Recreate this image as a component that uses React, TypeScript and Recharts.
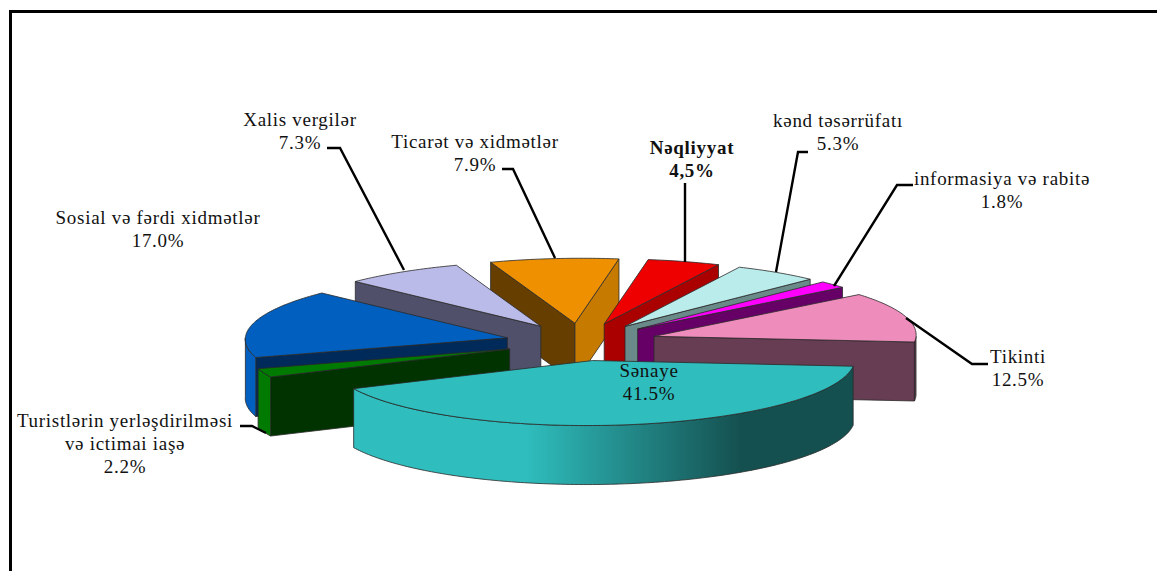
import { Pie, PieChart } from "recharts";

const names = [
  "Nəqliyyat",
  "kənd təsərrüfatı",
  "informasiya və rabitə",
  "Tikinti",
  "Sənaye",
  "Turistlərin yerləşdirilməsi",
  "Sosial və fərdi xidmətlər",
  "Xalis vergilər",
  "Ticarət və xidmətlər",
];
const values = [4.5, 5.3, 1.8, 12.5, 41.5, 2.2, 17.0, 7.3, 7.9];
const valueLabels = ["4,5%", "5.3%", "1.8%", "12.5%", "41.5%", "2.2%", "17.0%", "7.3%", "7.9%"];
const topColors = ["#ee0000", "#bbecec", "#ff00ff", "#ee8cbb", "#2fbdbd", "#007a00", "#005fbf", "#bbbbea", "#ee9000"];
const startWalls = ["#aa0000", "#6a8a8a", "#660066", "#663d52", "#155050", "#003300", "#002a5a", "#50506a", "#663f00"];
const endWalls = ["#aa0000", "#6a8a8a", "#660066", "#663d52", "#155050", "#003300", "#002a5a", "#50506a", "#c77a00"];
const arcWalls = ["#aa0000", "#6a8a8a", "#660066", "#663d52", "url(#senayeSide)", "#007a00", "#005fbf", "#50506a", "#c77a00"];

// back slices first, Sənaye goes on top of everything
const drawOrder = [8, 7, 0, 1, 2, 3, 6, 5, 4];

const sliceData = names.map((name, i) => ({ name, value: values[i] }));

const squash = 65 / 262;
const explode = 0.29;
const depth = 59;
const lean = 0.1; // front of the pie leans left a little, like the perspective in the original

function Slice3D(props: any) {
  const { cx, cy, outerRadius: r, startAngle: a0, endAngle: a1 } = props;
  const i = names.indexOf(props.name ?? props.payload?.name);
  const mid = (a0 + a1) / 2;
  const rad = (d: number) => (d * Math.PI) / 180;
  const bx = cx + r * explode * Math.cos(rad(mid));
  const by = cy - r * explode * squash * Math.sin(rad(mid));
  const project = (x: number, y: number, dy = 0) => `${x - lean * (y - cy)} ${y + dy}`;
  const apex = (dy = 0) => project(bx, by, dy);
  const pt = (a: number, dy = 0) =>
    project(bx + r * Math.cos(rad(a)), by - r * squash * Math.sin(rad(a)), dy);
  const arc = (from: number, to: number, dy = 0) => {
    const steps = Math.max(2, Math.ceil(Math.abs(from - to)));
    return Array.from({ length: steps + 1 }, (_, k) => pt(from + ((to - from) * k) / steps, dy)).join(" L");
  };
  const line = { stroke: "#2a2a2a", strokeWidth: 0.8, strokeLinejoin: "round" as const };

  const wall = (a: number, fill: string) => (
    <path d={`M${apex()} L${pt(a)} L${pt(a, depth)} L${apex(depth)} Z`} fill={fill} {...line} />
  );
  const arcFrom = Math.min(a0, 0);
  const arcTo = Math.max(a1, -180);

  return (
    <g>
      {Math.cos(rad(a0)) < 0 && wall(a0, startWalls[i])}
      {Math.cos(rad(a1)) > 0 && wall(a1, endWalls[i])}
      {arcFrom > arcTo && (
        <path d={`M${arc(arcFrom, arcTo)} L${arc(arcTo, arcFrom, depth)} Z`} fill={arcWalls[i]} {...line} />
      )}
      <path d={`M${apex()} L${arc(a0, a1)} Z`} fill={topColors[i]} {...line} />
    </g>
  );
}

const labelFont = { fontFamily: "'Liberation Serif', serif", fontSize: 19, letterSpacing: 0.7, fill: "#111" };

// text blocks: x center, first baseline, lines
const labelSpots = [
  { x: 692, y: 154, lines: [names[0], valueLabels[0]], bold: true },
  { x: 838, y: 127, lines: [names[1], valueLabels[1]] },
  { x: 1002, y: 185, lines: [names[2], valueLabels[2]] },
  { x: 1018, y: 363, lines: [names[3], valueLabels[3]] },
  { x: 649, y: 377, lines: [names[4], valueLabels[4]] },
  { x: 125, y: 427, lines: [names[5], "və ictimai iaşə", valueLabels[5]] },
  { x: 158, y: 224, lines: [names[6], valueLabels[6]] },
  { x: 300, y: 126, lines: [names[7], valueLabels[7]] },
  { x: 475, y: 148, lines: [names[8], valueLabels[8]] },
];
const leaders = [
  "685,183 685,262",
  "808,152 798,152 776,272",
  "913,185 897,185 834,286",
  "906,318 972,364 988,364",
  "240,426 252,426 266,433",
  "327,148 340,148 404,270",
  "502,169 513,169 555,258",
];

export default function App() {
  return (
    <div style={{ position: "absolute", left: 0, top: 0, width: 1157, height: 571, overflow: "hidden", background: "#fff" }}>
      <div style={{ position: "absolute", left: 9, top: 10, right: 0, bottom: 0, borderLeft: "3px solid #000", borderTop: "3px solid #000" }} />
      <PieChart width={1157} height={571} margin={{ top: 0, right: 0, bottom: 0, left: 0 }} style={{ position: "absolute", left: 0, top: 0 }}>
        <defs>
          <linearGradient id="senayeSide" gradientUnits="userSpaceOnUse" x1={352} y1={0} x2={850} y2={0}>
            <stop offset="0.35" stopColor="#2fbdbd" />
            <stop offset="0.78" stopColor="#155050" />
          </linearGradient>
        </defs>
        {drawOrder.map((target) => (
          <Pie
            key={target}
            data={sliceData}
            dataKey="value"
            nameKey="name"
            cx={581}
            cy={342}
            innerRadius={0}
            outerRadius={262}
            startAngle={81.76}
            endAngle={-278.24}
            stroke="none"
            isAnimationActive={false}
            shape={(p: any) => (names.indexOf(p.name ?? p.payload?.name) === target ? <Slice3D {...p} /> : <g />)}
          />
        ))}
      </PieChart>
      <svg width={1157} height={571} style={{ position: "absolute", left: 0, top: 0 }}>
        {leaders.map((points) => (
          <polyline key={points} points={points} fill="none" stroke="#000" strokeWidth={2.4} />
        ))}
        {labelSpots.map((spot) => (
          <text key={spot.lines[0]} textAnchor="middle" fontWeight={spot.bold ? 700 : 400} {...labelFont}>
            {spot.lines.map((t, k) => (
              <tspan key={t} x={spot.x} y={spot.y + k * 23}>
                {t}
              </tspan>
            ))}
          </text>
        ))}
      </svg>
    </div>
  );
}
